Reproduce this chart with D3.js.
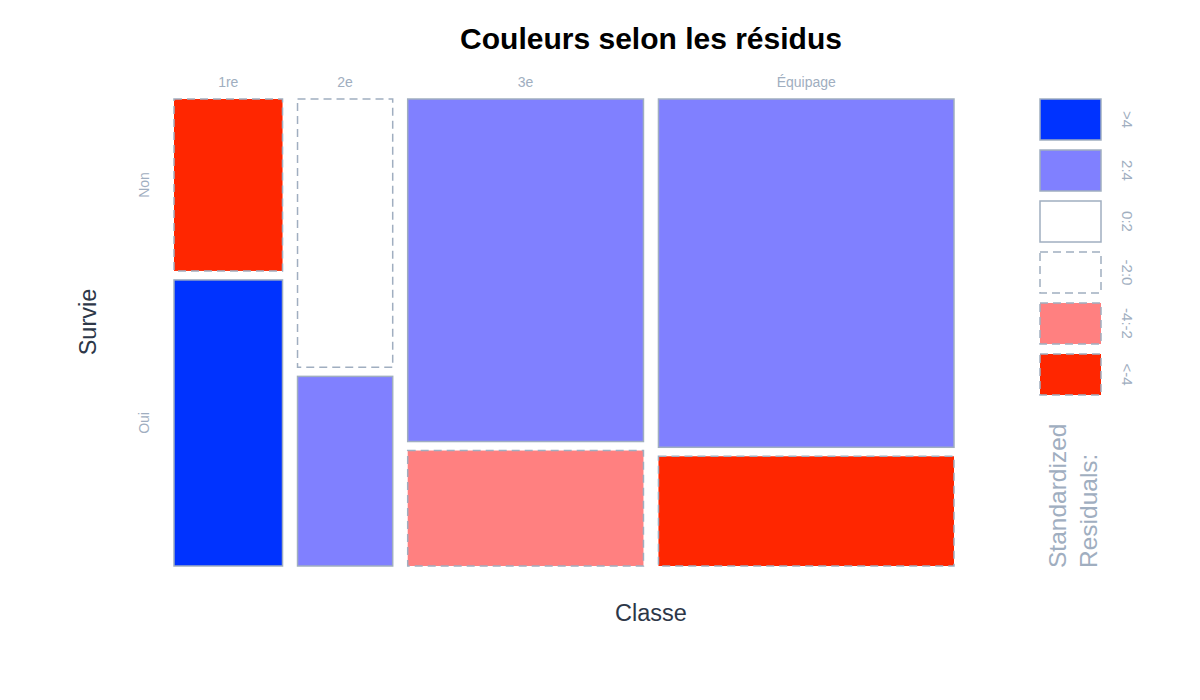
<!DOCTYPE html>
<html><head><meta charset="utf-8">
<script src="https://cdn.jsdelivr.net/npm/d3@7"></script>
<style>body{margin:0;background:#fff;} text{font-family:"Liberation Sans",Helvetica,Arial,sans-serif;}</style>
</head><body>
<svg id="c" width="1200" height="700"></svg>
<script>
const classes = ["1re","2e","3e","Équipage"];
const survival = ["Non","Oui"];
const countsNon = [122,167,528,673];
const countsOui = [203,118,178,212];
const residNon = [-6.61,-1.87,2.29,3.02];
const residOui = [9.56,2.70,-3.32,-4.37];
const legendLabels = [">4","2:4","0:2","-2:0","-4:-2","<-4"];
const legendColors = ["#0033ff","#8080ff","#ffffff","#ffffff","#ff8080","#ff2600"];
const legendDashed = [false,false,false,true,true,true];

(function(){
const svg = d3.select("#c");
const pL=174, pR=954, pT=99, pB=566, gapX=15, gapY=9;
const stroke="#a0aec0", tickColor="#a0aec0", titleColor="#2d3748";

const totals = classes.map((c,i)=>countsNon[i]+countsOui[i]);
const grand = d3.sum(totals);
const wScale = d3.scaleLinear().domain([0,grand]).range([0,(pR-pL)-gapX*(classes.length-1)]);
const hScale = d3.scaleLinear().domain([0,1]).range([0,(pB-pT)-gapY]);

function fillFor(r){ if(r>4) return legendColors[0]; if(r>2) return legendColors[1]; if(r>0) return legendColors[2]; if(r>-2) return legendColors[3]; if(r>-4) return legendColors[4]; return legendColors[5]; }

let x0 = pL;
const cells=[]; const colCenters=[];
classes.forEach((c,i)=>{
  const w = wScale(totals[i]);
  const hN = hScale(countsNon[i]/totals[i]);
  const hO = hScale(countsOui[i]/totals[i]);
  cells.push({x:x0,y:pT,w:w,h:hN,r:residNon[i]});
  cells.push({x:x0,y:pT+hN+gapY,w:w,h:hO,r:residOui[i]});
  colCenters.push(x0+w/2);
  x0 += w+gapX;
});

svg.selectAll("rect.cell").data(cells).enter().append("rect")
  .attr("x",d=>d.x).attr("y",d=>d.y).attr("width",d=>d.w).attr("height",d=>d.h)
  .attr("fill",d=>fillFor(d.r)).attr("stroke",stroke).attr("stroke-width",1.5)
  .attr("stroke-dasharray",d=>d.r<0?"8,5":null);

svg.selectAll("text.col").data(classes).enter().append("text")
  .attr("x",(d,i)=>colCenters[i]).attr("y",87).attr("text-anchor","middle")
  .attr("font-size",14).attr("fill",tickColor).text(d=>d);

const rowCenters=[cells[0].y+cells[0].h/2, cells[1].y+cells[1].h/2];
survival.forEach((s,j)=>{
  svg.append("text").attr("transform",`translate(149,${rowCenters[j]}) rotate(-90)`)
    .attr("text-anchor","middle").attr("font-size",14).attr("fill",tickColor).text(s);
});

svg.append("text").attr("x",651).attr("y",49).attr("text-anchor","middle")
  .attr("font-size",30).attr("font-weight","bold").attr("fill","#000").text("Couleurs selon les résidus");
svg.append("text").attr("x",651).attr("y",621).attr("text-anchor","middle")
  .attr("font-size",23.5).attr("fill",titleColor).text("Classe");
svg.append("text").attr("transform","translate(96,322) rotate(-90)").attr("text-anchor","middle")
  .attr("font-size",23.5).attr("fill",titleColor).text("Survie");

const lg = svg.append("g");
const ly = d3.scaleBand().domain(legendLabels).range([99,395]).paddingInner(10/51);
lg.selectAll("rect").data(legendLabels).enter().append("rect")
  .attr("x",1040).attr("y",d=>ly(d)).attr("width",61).attr("height",ly.bandwidth())
  .attr("fill",(d,i)=>legendColors[i]).attr("stroke",stroke).attr("stroke-width",1.5)
  .attr("stroke-dasharray",(d,i)=>legendDashed[i]?"8,5":null);
lg.selectAll("text").data(legendLabels).enter().append("text")
  .attr("transform",d=>`translate(1122,${ly(d)+ly.bandwidth()/2}) rotate(90)`)
  .attr("text-anchor","middle").attr("font-size",15).attr("fill",tickColor).text(d=>d);
const lt = svg.append("text").attr("transform","translate(1066,568) rotate(-90)")
  .attr("font-size",24.5).attr("fill",tickColor);
lt.append("tspan").attr("x",0).attr("dy",0).text("Standardized");
lt.append("tspan").attr("x",0).attr("dy",31).text("Residuals:");
})();
</script>
</body></html>
